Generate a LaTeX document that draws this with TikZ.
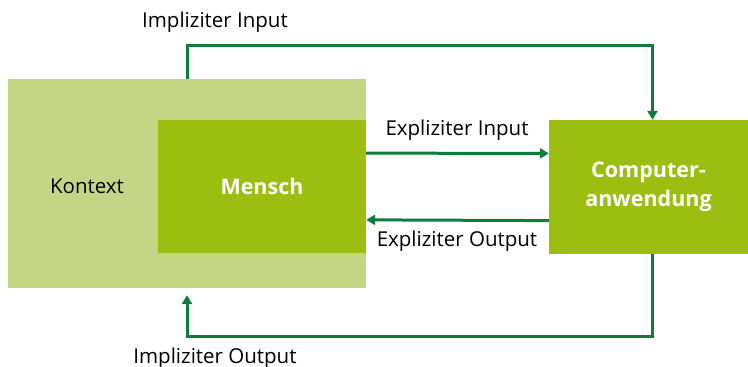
\documentclass[tikz,border=0pt]{standalone}
\usepackage{fontspec}
\setmainfont{Open Sans}
\usetikzlibrary{positioning,calc,arrows.meta}
\definecolor{kontextgreen}{HTML}{C4D686}
\definecolor{limegreen}{HTML}{9BBE10}
\definecolor{linegreen}{HTML}{0E7D3A}
\begin{document}
\begin{tikzpicture}[x=1pt,y=-1pt]

			\tikzstyle{area}=[fill=kontextgreen,draw=none,
				minimum width=358pt,minimum height=209pt,
				inner sep=0pt]
			\tikzstyle{actor}=[fill=limegreen,draw=none,
				text=white,font=\fontsize{21.5}{29}\selectfont\bfseries,
				inner sep=0pt,
				align=center]
			\tikzstyle{flow}=[linegreen,line width=3pt,
				-{Triangle[length=9pt,width=10pt]}]
			\tikzstyle{caption}=[font=\fontsize{20.5}{24}\selectfont,
				inner sep=0pt]

			\useasboundingbox (0,0) rectangle (748,367);

			\node[area]		(kontext)	at (187,183.5)	{};
			\node[actor,minimum width=208pt,minimum height=133pt]
				(mensch)	at (262,186.5)	{Mensch};
			\node[actor,minimum width=199pt,minimum height=134pt]
				(computer)	at (648.5,187)	{Computer-\\anwendung};
			\node[caption]	(kontextlabel)	at (87,186)	{Kontext};

			\draw[flow] ($(mensch.north east)!0.25!(mensch.south east)$)
				-- ($(computer.north west)!0.25!(computer.south west)$);
			\draw[flow] ($(computer.north west)!0.75!(computer.south west)$)
				-- ($(mensch.north east)!0.75!(mensch.south east)$);
			\draw[flow] (kontext.north) -- ++(0,-33)
				-| ([xshift=4pt]computer.north);
			\draw[flow,shorten >=7pt] ([xshift=4pt]computer.south)
				-- ++(0,82) -| (kontext.south);

				\node[caption]	(expin)	at (457,130)	{Expliziter Input};
				\node[caption]	(expout)	at (457,241)	{Expliziter Output};
				\node[caption]	(impin)	at (215,22)	{Impliziter Input};
				\node[caption]	(impout)	at (215,358)	{Impliziter Output};

		\end{tikzpicture}
\end{document}
